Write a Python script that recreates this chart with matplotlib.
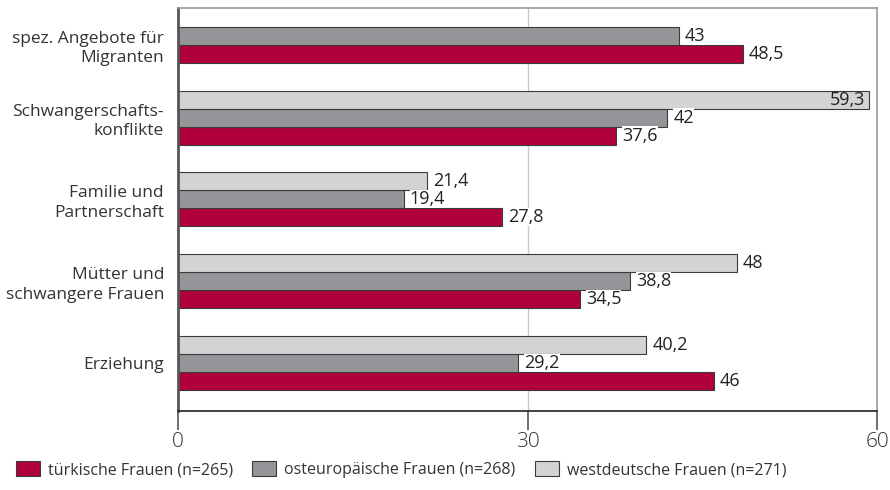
import numpy as np
import matplotlib.pyplot as plt

plt.rcParams['font.family'] = ['Open Sans', 'DejaVu Sans']

categories = ['spez. Angebote für\nMigranten', 'Schwangerschafts-\nkonflikte',
              'Familie und\nPartnerschaft', 'Mütter und\nschwangere Frauen', 'Erziehung']
tuerkisch = [48.5, 37.6, 27.8, 34.5, 46]
osteuropa = [43, 42, 19.4, 38.8, 29.2]
westdeutsch = [np.nan, 59.3, 21.4, 48, 40.2]
series_names = ['türkische Frauen (n=265)', 'osteuropäische Frauen (n=268)',
                'westdeutsche Frauen (n=271)']

c_red = '#b0003a'
c_gray = '#939598'
c_light = '#d1d3d4'
edge = '#3a3a3a'

fig = plt.figure(figsize=(8.9, 4.9), dpi=100)
ax = fig.add_axes([0.2, 0.1612, 0.7854, 0.8225])

y = np.arange(len(categories))
h = 0.22
b_red = ax.barh(y + h, tuerkisch, height=h, color=c_red, edgecolor=edge, linewidth=0.8, label=series_names[0])
b_gray = ax.barh(y, osteuropa, height=h, color=c_gray, edgecolor=edge, linewidth=0.8, label=series_names[1])
b_light = ax.barh(y - h, westdeutsch, height=h, color=c_light, edgecolor=edge, linewidth=0.8, label=series_names[2])


def fmt(v):
    return ('%g' % v).replace('.', ',')


for bars, vals in [(b_red, tuerkisch), (b_gray, osteuropa), (b_light, westdeutsch)]:
    for rect, v in zip(bars, vals):
        if np.isnan(v):
            continue
        yc = rect.get_y() + rect.get_height() / 2
        if v > 57:
            ax.text(v - 0.3, yc, fmt(v), ha='right', va='center', fontsize=13, color='#222222')
        else:
            ax.text(v + 0.5, yc, fmt(v), ha='left', va='center', fontsize=13, color='#222222',
                    bbox=dict(facecolor='white', edgecolor='none', pad=0.1))

ax.set_xlim(0, 60)
ax.set_ylim(4.59, -0.34)
# first group has only two bars, so its label sits between them
label_pos = [p + (h / 2 if np.isnan(w) else 0) for p, w in zip(y, westdeutsch)]
ax.set_yticks(label_pos)
ax.set_yticklabels(categories, fontsize=12.5, color='#333333', ha='right', linespacing=1.3)
ax.tick_params(axis='y', length=0, pad=10)
ax.set_xticks([0, 30, 60])
ax.set_xticklabels(['0', '30', '60'], fontsize=15, color='#333333', fontweight='light')
ax.tick_params(axis='x', length=14, width=1.2, color='#555555', pad=1)
ax.axvline(30, color='#c8c8c8', linewidth=1, zorder=0)

ax.spines['left'].set_color('#555555')
ax.spines['left'].set_linewidth(2)
ax.spines['bottom'].set_color('#222222')
ax.spines['bottom'].set_linewidth(1.2)
ax.spines['top'].set_color('#999999')
ax.spines['right'].set_color('#999999')
ax.spines['top'].set_linewidth(1.2)
ax.spines['right'].set_linewidth(1.2)

handles = [b_red, b_gray, b_light]
fig.legend(handles, series_names, loc='lower left', bbox_to_anchor=(0.002, -0.005), ncol=3,
           frameon=False, fontsize=11.5, handlelength=1.5, handleheight=1.1, handletextpad=0.5,
           columnspacing=1.2, labelcolor='#333333')

fig.savefig('out.png', dpi=100)
